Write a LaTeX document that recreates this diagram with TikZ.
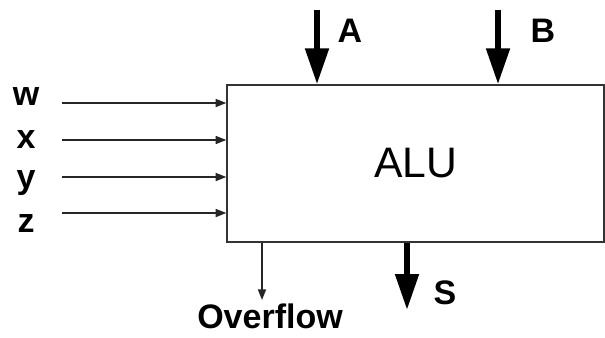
\documentclass[tikz,border=0pt]{standalone}
\usepackage{fontspec}
\setmainfont{Liberation Sans}
\usetikzlibrary{arrows.meta,positioning}
\tikzset{
  alubox/.style={draw=black!80, line width=1pt, minimum width=282.75pt, minimum height=117.75pt, inner sep=0pt, font=\fontsize{32}{38}\selectfont},
  pinlabel/.style={inner sep=0pt, font=\fontsize{25.5}{30}\selectfont\bfseries},
  busarrow/.style={-{Triangle[length=27pt, width=17pt]}, line width=4.5pt},
  wirearrow/.style={-{Triangle[length=8pt, width=6pt]}, line width=1.2pt, draw=black!85}
}
\begin{document}
\begin{tikzpicture}[x=0.75pt, y=0.75pt]
  \useasboundingbox (0,0) rectangle (605,337);
  \node[alubox] (alu) at (415.5,173.5) {ALU};

  % data inputs
  \coordinate (ain) at (317,327);
  \coordinate (bin) at (498,327);
  \node[pinlabel] (alab) at (350,306) {A};
  \node[pinlabel] (blab) at (543,306) {B};
  \draw[busarrow] (ain) -- (ain |- alu.north);
  \draw[busarrow] (bin) -- (bin |- alu.north);

  % control inputs
  \node[pinlabel, anchor=base] (wlab) at (26,232) {w};
  \node[pinlabel, anchor=base] (xlab) at (26,189) {x};
  \node[pinlabel, anchor=base] (ylab) at (26,149) {y};
  \node[pinlabel, anchor=base] (zlab) at (26,105) {z};
  \coordinate (win) at (62,234);
  \coordinate (xin) at (62,197);
  \coordinate (yin) at (62,160);
  \coordinate (zin) at (62,124);
  \draw[wirearrow] (win) -- (win -| alu.west);
  \draw[wirearrow] (xin) -- (xin -| alu.west);
  \draw[wirearrow] (yin) -- (yin -| alu.west);
  \draw[wirearrow] (zin) -- (zin -| alu.west);

  % outputs
  \coordinate (sout) at (407,27);
  \node[pinlabel] (slab) at (445,44) {S};
  \draw[busarrow] (sout |- alu.south) -- (sout);
  \coordinate (ovout) at (262,37);
  \node[pinlabel, anchor=base] (ovlab) at (270,9) {Overflow};
  \draw[wirearrow] (ovout |- alu.south) -- (ovout);
\end{tikzpicture}
\end{document}
